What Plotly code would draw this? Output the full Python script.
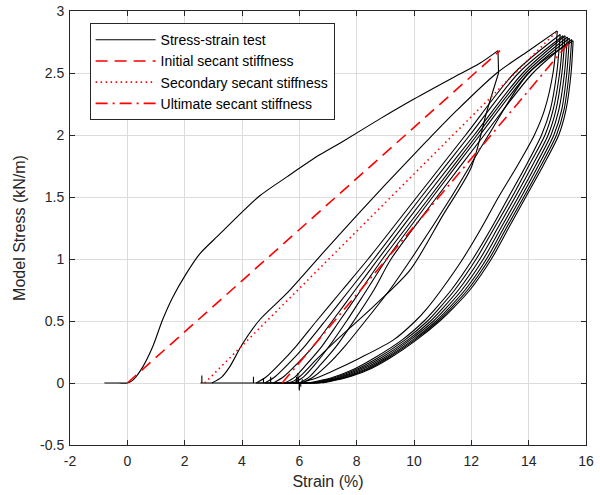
import plotly.graph_objects as go

# ---------------- data ----------------
# cycle 1 loading
load1_x = [-0.8, -0.3, 0.0, 0.15, 0.3, 0.54, 0.88, 1.23, 1.58, 2.05, 2.52, 3.22, 3.92, 4.62, 5.55, 6.71, 7.53, 8.81, 10.0, 11.26, 12.31, 12.93]
load1_y = [0.0, 0.0, 0.0, 0.015, 0.05, 0.13, 0.29, 0.51, 0.69, 0.88, 1.04, 1.20, 1.36, 1.51, 1.66, 1.84, 1.95, 2.13, 2.29, 2.45, 2.58, 2.68]
# vertical drop after first peak
drop1_x = [12.93, 12.95]
drop1_y = [2.68, 2.50]
# cycle 1 unloading
unload1_x = [12.95, 12.54, 12.0, 11.0, 9.86, 8.6, 7.41, 6.6, 6.1, 5.8, 5.6]
unload1_y = [2.50, 2.19, 1.74, 1.35, 0.91, 0.62, 0.37, 0.19, 0.07, 0.015, 0.0]
# rest at zero stress (with small noise spikes)
rest_x = [5.6, 5.3, 5.0, 5.0, 5.0, 4.75, 4.75, 4.75, 4.4, 4.4, 4.4, 3.5, 2.6, 2.6, 2.6, 2.55, 2.95]
rest_y = [0.0, 0.0, 0.0, 0.05, 0.0, 0.0, 0.04, 0.0, 0.0, 0.05, 0.0, 0.0, 0.0, 0.06, 0.0, 0.0, 0.0]
# cycle 2 reloading
reload2_x = [2.95, 3.3, 3.57, 4.03, 4.62, 5.55, 6.71, 8.0, 9.0, 10.44, 11.5, 12.89, 14.0, 14.99]
reload2_y = [0.0, 0.05, 0.13, 0.32, 0.51, 0.72, 1.02, 1.35, 1.6, 1.95, 2.2, 2.50, 2.68, 2.84]

# later cycles: peaks
peak_x = [15.0, 15.1, 15.2, 15.27, 15.35, 15.42, 15.5, 15.55]
peak_y = [2.84, 2.81, 2.80, 2.80, 2.79, 2.78, 2.77, 2.76]

# unloading curves: strain at these stress levels
unload_levels = [2.5, 2.2, 2.0, 1.75, 1.5, 1.25, 1.0, 0.75, 0.6, 0.5, 0.35, 0.2, 0.1, 0.04, 0.0]
unload_strains = [
    [14.85, 14.55, 14.2, 13.6, 12.95, 12.35, 11.7, 10.95, 10.45, 10.05, 9.3, 8.1, 7.2, 6.6, 6.0],
    [14.98, 14.75, 14.45, 13.9, 13.3, 12.7, 12.05, 11.3, 10.75, 10.35, 9.6, 8.6, 7.8, 7.1, 6.3],
    [15.08, 14.85, 14.57, 14.0, 13.42, 12.8, 12.17, 11.42, 10.87, 10.47, 9.7, 8.72, 7.9, 7.2, 6.4],
    [15.16, 14.95, 14.68, 14.12, 13.53, 12.92, 12.3, 11.55, 10.99, 10.58, 9.8, 8.83, 8.0, 7.3, 6.5],
    [15.25, 15.05, 14.78, 14.23, 13.64, 13.03, 12.42, 11.67, 11.1, 10.68, 9.88, 8.93, 8.1, 7.38, 6.55],
    [15.33, 15.15, 14.88, 14.33, 13.74, 13.13, 12.53, 11.78, 11.2, 10.77, 9.97, 9.01, 8.2, 7.46, 6.65],
    [15.41, 15.23, 14.97, 14.42, 13.83, 13.22, 12.62, 11.87, 11.28, 10.84, 10.04, 9.08, 8.28, 7.53, 6.72],
    [15.48, 15.3, 15.05, 14.5, 13.9, 13.3, 12.7, 11.95, 11.35, 10.9, 10.1, 9.15, 8.35, 7.6, 6.8],
]

# reloading curves (cycles 3..9): strain at these stress levels, ending at next peak
reload_levels = [0.0, 0.05, 0.15, 0.3, 0.5, 0.75, 1.0, 1.5, 2.0, 2.5]
reload_strains = [
    [4.5, 4.85, 5.3, 5.9, 6.6, 7.5, 8.4, 10.1, 11.8, 13.5],
    [4.8, 5.15, 5.6, 6.2, 6.9, 7.75, 8.6, 10.25, 11.95, 13.65],
    [5.1, 5.45, 5.9, 6.5, 7.15, 7.95, 8.75, 10.4, 12.1, 13.8],
    [5.5, 5.85, 6.25, 6.8, 7.4, 8.15, 8.9, 10.55, 12.2, 13.9],
    [5.8, 6.15, 6.55, 7.05, 7.65, 8.35, 9.05, 10.65, 12.3, 14.0],
    [6.0, 6.35, 6.75, 7.3, 7.9, 8.6, 9.2, 10.8, 12.45, 14.15],
    [6.1, 6.5, 7.0, 7.6, 8.3, 9.15, 9.9, 11.3, 12.6, 14.0],
]
# zero-stress noise spikes between unloading and the next reloading (strain, spike stress)
spike_x = [6.0, 5.95, 6.05, 5.9, 6.0, 6.1, 5.97]
spike_y = [-0.05, 0.08, -0.03, 0.05, -0.06, 0.03, 0.04]

# secant stiffness lines
initial_x = [0.0, 13.0]
initial_y = [0.0, 2.68]
secondary_x = [2.7, 15.0]
secondary_y = [0.0, 2.84]
ultimate_x = [5.4, 15.5]
ultimate_y = [0.0, 2.77]

xtick_vals = [-2, 0, 2, 4, 6, 8, 10, 12, 14, 16]
xtick_text = ["-2", "0", "2", "4", "6", "8", "10", "12", "14", "16"]
ytick_vals = [-0.5, 0, 0.5, 1, 1.5, 2, 2.5, 3]
ytick_text = ["-0.5", "0", "0.5", "1", "1.5", "2", "2.5", "3"]

# ---------------- build the test segments ----------------
segments = []  # (x, y, smooth)
segments.append((load1_x, load1_y, True))
segments.append((drop1_x, drop1_y, False))
segments.append((unload1_x, unload1_y, True))
segments.append((rest_x, rest_y, False))
segments.append((reload2_x, reload2_y, True))
for i in range(len(unload_strains)):
    segments.append(([peak_x[i]] + unload_strains[i], [peak_y[i]] + unload_levels, True))
    if i < len(reload_strains):
        end_x = unload_strains[i][-1]
        start_x = reload_strains[i][0]
        segments.append(([end_x, spike_x[i], spike_x[i], spike_x[i], start_x],
                         [0.0, 0.0, spike_y[i], 0.0, 0.0], False))
        segments.append((reload_strains[i] + [peak_x[i + 1]], reload_levels + [peak_y[i + 1]], True))

ink = "#262626"
font_family = "Liberation Sans, Arial, sans-serif"
fig = go.Figure()
for k, (sx, sy, smooth) in enumerate(segments):
    fig.add_trace(go.Scatter(
        x=sx, y=sy, mode="lines", name="Stress-strain test",
        legendgroup="test", showlegend=(k == 0),
        line=dict(color="black", width=1.1,
                  shape="spline" if smooth else "linear", smoothing=0.8)))
fig.add_trace(go.Scatter(x=initial_x, y=initial_y, mode="lines", name="Initial secant stiffness",
                         line=dict(color="#ff0000", width=1.6, dash="12px,7px")))
fig.add_trace(go.Scatter(x=secondary_x, y=secondary_y, mode="lines", name="Secondary secant stiffness",
                         line=dict(color="#ff0000", width=1.6, dash="1.5px,3.5px")))
fig.add_trace(go.Scatter(x=ultimate_x, y=ultimate_y, mode="lines", name="Ultimate secant stiffness",
                         line=dict(color="#ff0000", width=1.6, dash="12px,5px,2px,5px")))

axis_common = dict(showline=True, linecolor=ink, linewidth=1, mirror="ticks",
                   ticks="inside", ticklen=5, tickcolor=ink, tickwidth=1,
                   showgrid=True, gridcolor="#dcdcdc", gridwidth=1, zeroline=False,
                   automargin=False,
                   tickfont=dict(family=font_family, size=14, color=ink))

fig.update_xaxes(range=[-2, 16], tickmode="array", tickvals=xtick_vals, ticktext=xtick_text,
                 title=dict(text="Strain (%)", font=dict(family=font_family, size=16, color=ink), standoff=8),
                 ticklabelstandoff=3,
                 **axis_common)
fig.update_yaxes(range=[-0.5, 3], tickmode="array", tickvals=ytick_vals, ticktext=ytick_text,
                 title=dict(text="Model Stress (kN/m)", font=dict(family=font_family, size=16, color=ink), standoff=10),
                 ticklabelstandoff=2,
                 **axis_common)

fig.update_layout(
    width=600, height=495,
    margin=dict(l=70, r=14, t=11, b=50, autoexpand=False),
    paper_bgcolor="white", plot_bgcolor="white",
    showlegend=True,
    legend=dict(x=0.038, y=0.972, xanchor="left", yanchor="top",
                bgcolor="white", bordercolor=ink, borderwidth=1,
                font=dict(family=font_family, size=14, color="black"),
                itemwidth=60, tracegroupgap=0),
)

fig.write_html("out.html", config={"displayModeBar": False},
               post_script="document.body.style.margin='0px';document.body.style.overflow='hidden';")
